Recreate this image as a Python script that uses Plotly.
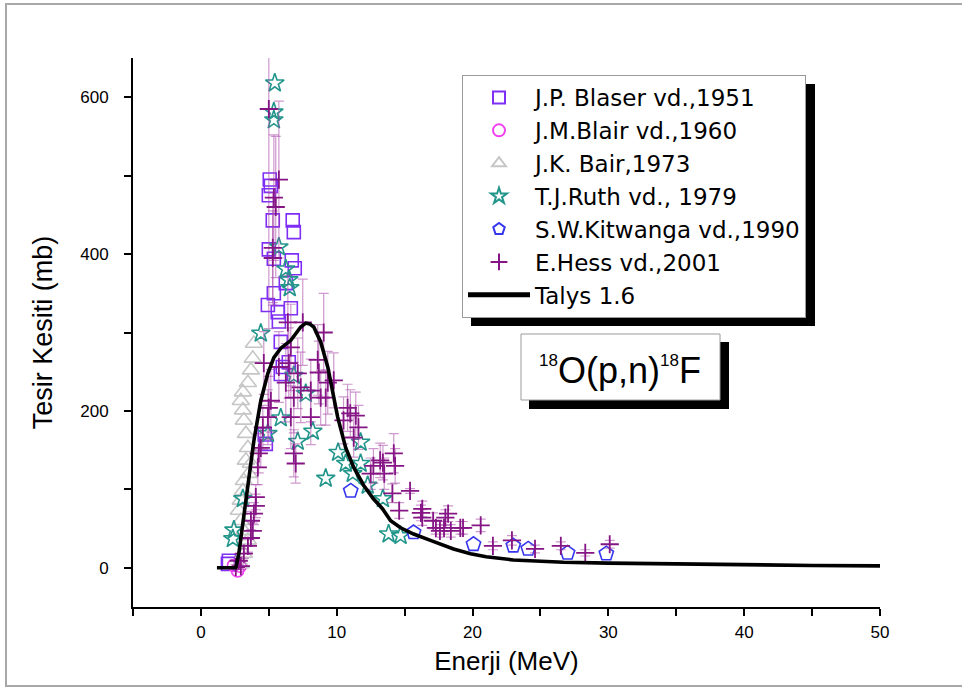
import plotly.graph_objects as go

# ---------------- data ----------------
blaser_x = [1.99, 2.06, 4.78, 4.70, 4.93, 5.00, 5.00, 5.07, 5.15, 5.29, 5.37, 5.37, 5.66, 5.74, 5.88, 5.88,
            6.03, 6.25, 6.47, 6.62, 6.69, 6.76, 6.84, 6.91]
blaser_y = [5, 9, 158, 170, 335, 406, 475, 495, 487, 443, 394, 350, 326, 314, 288, 247,
            256, 363, 262, 331, 392, 443, 428, 382]

blair_x = [2.40, 2.70, 2.90]
blair_y = [3, -4, 2]

bair_x = [2.94, 3.16, 3.46, 3.16, 2.94, 2.79, 2.94, 3.09, 3.16, 3.53, 3.68, 3.31, 3.46, 3.31, 3.16,
          3.09, 2.94, 3.09, 3.46, 3.68, 3.82, 3.90]
bair_y = [5, 18, 35, 47, 60, 73, 86, 98, 111, 120, 133, 137, 153, 171, 188,
          201, 213, 224, 236, 252, 267, 286]

ruth_x = [2.35, 2.43, 3.09, 4.41, 4.93, 5.37, 5.37, 5.44, 5.74, 5.88, 6.25, 6.47, 6.54, 6.84, 7.13,
          7.72, 8.24, 9.19, 10.10, 10.66, 11.18, 11.76, 11.76, 12.28, 13.40, 13.82, 14.70]
ruth_y = [37, 48, 88, 299, 171, 571, 581, 618, 409, 191, 381, 367, 357, 245, 161,
          222, 174, 114, 147, 133, 120, 160, 133, 105, 88, 43, 41]

kitwanga_x = [11.03, 15.66, 20.07, 23.0, 24.1, 27.0, 29.85]
kitwanga_y = [98, 45, 30, 28, 24, 19, 18]

hess_x = [2.57, 2.79, 2.94, 3.16, 3.46, 3.68, 3.82, 3.68, 3.90, 4.04, 4.04, 4.19, 4.26, 4.41, 4.56,
          4.63, 4.93, 5.00, 5.00, 5.15, 5.29, 5.29, 5.37, 5.51, 5.74, 5.74, 6.25, 6.40, 6.47, 6.62,
          6.62, 6.84, 6.84, 6.98, 7.13, 7.35, 7.50, 8.09, 8.09, 8.60, 8.68, 8.82, 9.04, 9.34, 9.19,
          9.78, 10.5, 10.8, 11.0, 11.25, 11.4, 11.6, 12.5, 12.7, 13.2, 13.4, 13.5, 14.1, 14.2, 14.3,
          14.6, 15.4, 16.2, 16.3, 16.3, 17.1, 17.3, 17.6, 17.9, 18.0, 18.2, 18.4, 19.1, 19.3, 20.6,
          21.5, 22.9, 24.6, 26.5, 28.3, 30.1]
hess_y = [1, 9, 2, 18, 28, 38, 47, 60, 69, 79, 90, 128, 146, 153, 179,
          261, 192, 204, 585, 213, 395, 408, 472, 460, 495, 256, 236, 313, 261, 281,
          192, 217, 146, 133, 248, 230, 313, 226, 192, 265, 249, 217, 300, 236, 217,
          239, 188, 204, 197, 166, 194, 179, 120, 130, 137, 134, 120, 95, 146, 130,
          73, 98, 70, 75, 64, 60, 51, 47, 51, 64, 69, 47, 51, 51, 54,
          28, 35, 24, 28, 19, 30]
hess_err = [3, 5, 4, 6, 8, 10, 10, 12, 14, 15, 16, 22, 25, 25, 28,
            40, 35, 40, 280, 40, 60, 70, 80, 90, 100, 45, 50, 60, 45, 55,
            40, 45, 30, 25, 45, 45, 55, 40, 35, 45, 40, 35, 50, 40, 35,
            35, 30, 30, 30, 25, 30, 28, 20, 22, 22, 22, 20, 12, 25, 22,
            10, 3, 10, 10, 10, 10, 8, 8, 8, 10, 10, 8, 8, 8, 8,
            5, 6, 5, 5, 4, 5]

talys_x = [1.18, 2.57, 2.79, 3.10, 3.46, 3.90, 4.41, 4.93, 5.37, 5.88, 6.62, 7.00, 7.35, 7.72, 8.00,
           8.31, 8.82, 9.34, 9.56, 10.07, 10.66, 11.25, 11.99, 12.70, 13.38, 13.97, 14.70, 15.66,
           16.90, 18.60, 19.85, 21.0, 23.0, 26.7, 30.0, 33.8, 40.0, 45.0, 50.0]
talys_y = [0, 0, 18, 60, 102, 162, 213, 248, 268, 280, 290, 298, 307, 312, 311,
           307, 288, 256, 235, 192, 153, 128, 105, 88, 75, 60, 51, 43,
           35, 24, 18, 14, 10, 7, 6, 5, 4, 3, 2.5]

series_names = ["J.P. Blaser vd.,1951", "J.M.Blair vd.,1960", "J.K. Bair,1973",
                "T.J.Ruth vd., 1979", "S.W.Kitwanga vd.,1990", "E.Hess vd.,2001", "Talys 1.6"]

# reaction label pieces: (text, is_superscript)
reaction_parts = [("18", True), ("O(p,n)", False), ("18", True), ("F", False)]

# ---------------- figure ----------------
W, H = 962, 689
L, R, T, B = 133, 82, 58, 82
PW, PH = W - L - R, H - T - B


def px(xp):
    return (xp - L) / PW


def py(yp):
    return (H - B - yp) / PH


FONT = "Liberation Sans, Arial, sans-serif"
LEG_FONT = "DejaVu Sans, Liberation Sans, Arial, sans-serif"

fig = go.Figure()

fig.add_trace(go.Scatter(x=blaser_x, y=blaser_y, mode="markers", name=series_names[0],
                         marker=dict(symbol="square-open", size=13, color="#7f2ff5",
                                     line=dict(width=1.6))))
fig.add_trace(go.Scatter(x=blair_x, y=blair_y, mode="markers", name=series_names[1],
                         marker=dict(symbol="circle-open", size=12, color="#f040f0",
                                     line=dict(width=1.6))))
fig.add_trace(go.Scatter(x=bair_x, y=bair_y, mode="markers", name=series_names[2],
                         marker=dict(symbol="triangle-up-open", size=15, color="#c6c6c6",
                                     line=dict(width=1.6))))
fig.add_trace(go.Scatter(x=ruth_x, y=ruth_y, mode="markers", name=series_names[3],
                         marker=dict(symbol="star-open", size=14, color="#23968c",
                                     line=dict(width=1.6))))
fig.add_trace(go.Scatter(x=kitwanga_x, y=kitwanga_y, mode="markers", name=series_names[4],
                         marker=dict(symbol="pentagon-open", size=15, color="#3636ee",
                                     line=dict(width=1.6))))
fig.add_trace(go.Scatter(x=hess_x, y=hess_y, mode="markers", name=series_names[5],
                         error_y=dict(type="data", array=hess_err, visible=True,
                                      color="rgba(165,70,165,0.55)", thickness=1.2, width=5),
                         marker=dict(symbol="cross-thin-open", size=13, color="#851585",
                                     line=dict(width=1.8, color="#851585"))))
fig.add_trace(go.Scatter(x=talys_x, y=talys_y, mode="lines", name=series_names[6],
                         line=dict(color="black", width=3.6)))

# legend box estimate (for its drop shadow)
LEG_L, LEG_T, LEG_W, LEG_H = 462, 75, 344, 242
SH = 9

shapes = [
    # outer frame
    dict(type="rect", xref="paper", yref="paper", x0=px(6), x1=px(975), y0=py(686), y1=py(4),
         line=dict(color="#a8a8a8", width=2), fillcolor="rgba(0,0,0,0)", layer="below"),
    # legend shadow
    dict(type="rect", xref="paper", yref="paper", x0=px(LEG_L + SH), x1=px(LEG_L + LEG_W + SH),
         y0=py(LEG_T + LEG_H + SH), y1=py(LEG_T + SH),
         line=dict(width=0), fillcolor="black", layer="above"),
    # annotation shadow
    dict(type="rect", xref="paper", yref="paper", x0=px(529), x1=px(729), y0=py(409), y1=py(342),
         line=dict(width=0), fillcolor="black", layer="above"),
    # annotation box
    dict(type="rect", xref="paper", yref="paper", x0=px(521), x1=px(720), y0=py(400), y1=py(334),
         line=dict(color="#9a9a9a", width=1), fillcolor="white", layer="above"),
]

# reaction label laid out piece by piece (superscripts smaller and raised)
SUP_SIZE, MAIN_SIZE = 17, 36
piece_x = [538, 557, 659, 678]
annotations = []
for (txt, sup), xx in zip(reaction_parts, piece_x):
    annotations.append(dict(
        xref="paper", yref="paper", x=px(xx), y=py(360 if sup else 370),
        xanchor="left", yanchor="middle", showarrow=False, text=txt, borderpad=0,
        font=dict(family=FONT, size=SUP_SIZE if sup else MAIN_SIZE, color="black")))

fig.update_layout(
    width=W, height=H,
    margin=dict(l=L, r=R, t=T, b=B, pad=0),
    paper_bgcolor="white", plot_bgcolor="white",
    font=dict(family=FONT, color="black"),
    showlegend=True,
    legend=dict(x=px(LEG_L), y=py(LEG_T), xanchor="left", yanchor="top",
                bgcolor="white", bordercolor="#9a9a9a", borderwidth=1,
                font=dict(family=LEG_FONT, size=23, color="black"),
                itemwidth=62, itemsizing="constant", tracegroupgap=0),
    shapes=shapes,
    annotations=annotations,
)

fig.update_xaxes(range=[-5, 50], tickvals=[0, 10, 20, 30, 40, 50], ticks="outside", ticklen=7,
                 tickwidth=1.5, tickcolor="black", showline=True, linecolor="black", linewidth=2,
                 showgrid=False, zeroline=False, tickfont=dict(size=17, family=FONT),
                 ticklabelstandoff=2,
                 minor=dict(tickvals=[-5, 5, 15, 25, 35, 45], ticks="outside", ticklen=7,
                            tickwidth=1.5, tickcolor="black"),
                 title=dict(text="Enerji (MeV)", font=dict(size=26, family=FONT), standoff=10))
fig.update_yaxes(range=[-50, 650], tickvals=[0, 200, 400, 600], ticks="outside", ticklen=7,
                 tickwidth=1.5, tickcolor="black", showline=True, linecolor="black", linewidth=2,
                 showgrid=False, zeroline=False, tickfont=dict(size=17, family=FONT),
                 ticklabelstandoff=12,
                 minor=dict(tickvals=[100, 300, 500], ticks="outside", ticklen=7,
                            tickwidth=1.5, tickcolor="black"),
                 title=dict(text="Tesir Kesiti (mb)", font=dict(size=27, family=FONT), standoff=20))

fig.write_html("out.html", config={"displayModeBar": False},
               post_script="document.body.style.margin='0px';")
